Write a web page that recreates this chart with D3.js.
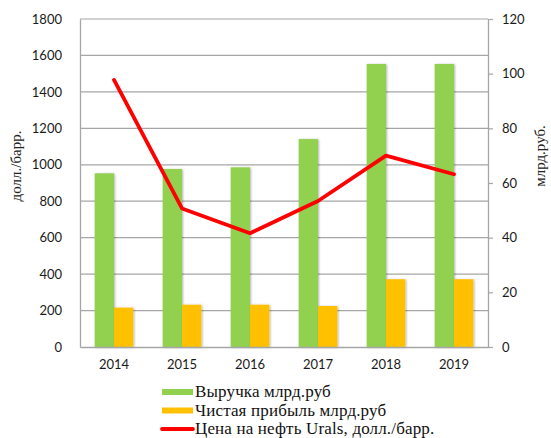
<!DOCTYPE html>
<html>
<head>
<meta charset="utf-8">
<script src="https://cdn.jsdelivr.net/npm/d3@7"></script>
<style>
  html, body { margin: 0; padding: 0; background: #fff; }
  svg { display: block; }
</style>
</head>
<body>
<svg id="chart"></svg>
<script>
const years = ["2014", "2015", "2016", "2017", "2018", "2019"];
const revenue = [953, 977, 986, 1141, 1553, 1553];
const profit = [216, 232, 232, 225, 372, 372];
const urals = [97.7, 50.7, 41.6, 53.4, 70.0, 63.2];
const leftTicks = [0, 200, 400, 600, 800, 1000, 1200, 1400, 1600, 1800];
const rightTicks = [0, 20, 40, 60, 80, 100, 120];
const legendLabels = ["Выручка млрд.руб", "Чистая прибыль млрд.руб", "Цена на нефть Urals, долл./барр."];

(function () {
    const W = 551, H = 438;
    const margin = { top: 19, right: 63, bottom: 91, left: 80 };
    const iw = W - margin.left - margin.right;
    const ih = H - margin.top - margin.bottom;

    const barMeta = [
        { key: "revenue", values: revenue, color: "#92d050" },
        { key: "profit", values: profit, color: "#ffc000" }
    ];
    const lineColor = "#ff0000";
    const gridColor = "#a6a6a6";
    const tickFont = "Lato, 'Open Sans', sans-serif";
    const serif = "'Liberation Serif', 'DejaVu Serif', serif";

    const svg = d3.select("#chart").attr("width", W).attr("height", H);

    const defs = svg.append("defs");
    const f = defs.append("filter").attr("id", "shadow")
        .attr("x", "-20%").attr("y", "-5%").attr("width", "150%").attr("height", "115%");
    f.append("feDropShadow").attr("dx", 1).attr("dy", 0.5).attr("stdDeviation", 0.9)
        .attr("flood-color", "#000").attr("flood-opacity", 0.3);

    const g = svg.append("g").attr("transform", `translate(${margin.left},${margin.top})`);

    const x0 = d3.scaleBand().domain(years).range([0, iw]).padding(0);
    const x1 = d3.scaleBand().domain(barMeta.map(s => s.key))
        .range([0, x0.bandwidth()]).paddingInner(0).paddingOuter(0.76);
    const yL = d3.scaleLinear().domain([0, 1800]).range([ih, 0]);
    const yR = d3.scaleLinear().domain([0, 120]).range([ih, 0]);
    const fmt = d3.format("d");

    // grid lines
    g.append("g").selectAll("line").data(leftTicks.filter(t => t > 0)).join("line")
        .attr("x1", 0).attr("x2", iw)
        .attr("y1", d => yL(d)).attr("y2", d => yL(d))
        .attr("stroke", gridColor).attr("stroke-width", 1.2);

    // bars
    barMeta.forEach(s => {
        g.append("g").selectAll("rect").data(years).join("rect")
            .attr("x", (d) => x0(d) + x1(s.key))
            .attr("width", x1.bandwidth())
            .attr("y", (d, i) => yL(s.values[i]))
            .attr("height", (d, i) => ih - yL(s.values[i]))
            .attr("fill", s.color)
            .attr("filter", "url(#shadow)");
    });

    // left axis
    const yAxisL = g.append("g")
        .call(d3.axisLeft(yL).tickValues(leftTicks).tickFormat(fmt).tickSize(0).tickPadding(18));
    yAxisL.select(".domain").attr("stroke", gridColor).attr("stroke-width", 1.3);
    yAxisL.selectAll("text").attr("font-family", tickFont).attr("font-size", "13px").attr("fill", "#1a1a1a");

    // right axis
    const yAxisR = g.append("g").attr("transform", `translate(${iw},0)`)
        .call(d3.axisRight(yR).tickValues(rightTicks).tickFormat(fmt).tickSizeInner(5).tickSizeOuter(0).tickPadding(9));
    yAxisR.select(".domain").attr("stroke", gridColor).attr("stroke-width", 1.3);
    yAxisR.selectAll(".tick line").attr("stroke", gridColor).attr("stroke-width", 1.2);
    yAxisR.selectAll("text").attr("font-family", tickFont).attr("font-size", "13px").attr("fill", "#1a1a1a");

    // bottom axis
    const xAxis = g.append("g").attr("transform", `translate(0,${ih})`)
        .call(d3.axisBottom(x0).tickSize(0).tickPadding(13));
    xAxis.select(".domain").attr("stroke", gridColor).attr("stroke-width", 1.3);
    xAxis.selectAll("text").attr("font-family", tickFont).attr("font-size", "13px").attr("fill", "#1a1a1a");

    // oil price line on the right axis
    const line = d3.line()
        .x((d, i) => x0(years[i]) + x0.bandwidth() / 2)
        .y(d => yR(d));
    g.append("path").datum(urals)
        .attr("d", line)
        .attr("fill", "none")
        .attr("stroke", lineColor)
        .attr("stroke-width", 3.8)
        .attr("stroke-linejoin", "round")
        .attr("stroke-linecap", "round");

    // axis titles
    svg.append("text")
        .attr("transform", `translate(21,166) rotate(-90)`)
        .attr("text-anchor", "middle")
        .attr("font-family", serif).attr("font-size", "15px").attr("fill", "#222")
        .text("долл./барр.");
    svg.append("text")
        .attr("transform", `translate(545,156) rotate(-90)`)
        .attr("text-anchor", "middle")
        .attr("font-family", serif).attr("font-size", "15px").attr("fill", "#222")
        .text("млрд.руб.");

    // legend
    const legendColors = [barMeta[0].color, barMeta[1].color, lineColor];
    const lg = svg.append("g").attr("transform", "translate(162,392)");
    legendLabels.forEach((label, i) => {
        const ly = i * 18.5;
        lg.append("line")
            .attr("x1", 0).attr("x2", 31).attr("y1", ly).attr("y2", ly)
            .attr("stroke", legendColors[i])
            .attr("stroke-width", i < 2 ? 6 : 3.8)
            .attr("stroke-linecap", i < 2 ? "butt" : "round");
        lg.append("text")
            .attr("x", 33).attr("y", ly + 5)
            .attr("font-family", serif).attr("font-size", "17px").attr("fill", "#111")
            .attr("letter-spacing", "0.15px")
            .text(label);
    });
})();
</script>
</body>
</html>
